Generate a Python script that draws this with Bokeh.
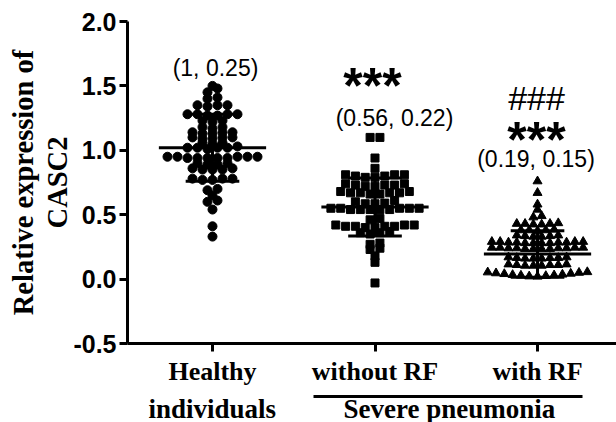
import numpy as np
from bokeh.plotting import figure
from bokeh.models import Label, FixedTicker, Range1d, LinearAxis, Title
from bokeh.embed import file_html
from bokeh.resources import INLINE

# ---------------- data ----------------
groups = ["Healthy individuals", "without RF", "with RF"]
group_pos = [1, 2, 3]

healthy = [1.50, 1.48, 1.45, 1.41, 1.40,
           1.35, 1.35, 1.34, 1.35,
           1.28, 1.28, 1.27, 1.28, 1.28, 1.27,
           1.23, 1.22, 1.23,
           1.18, 1.17, 1.18,
           1.14, 1.13, 1.14, 1.14, 1.13,
           1.10, 1.09, 1.10, 1.09, 1.10,
           1.06, 1.05, 1.06,
           1.02, 1.02, 1.03, 1.02, 1.01, 1.02,
           0.95, 0.94, 0.95, 0.94, 0.95, 0.94, 0.95, 0.94, 0.95, 0.94,
           0.90, 0.89, 0.90, 0.89,
           0.86, 0.85, 0.86, 0.85, 0.85,
           0.78, 0.77, 0.78, 0.77, 0.78,
           0.70, 0.69, 0.65, 0.61, 0.60, 0.54, 0.41, 0.33]

without_rf = [1.10, 1.10, 0.94, 0.86,
              0.81, 0.80, 0.81, 0.80, 0.81, 0.79, 0.79,
              0.73, 0.72, 0.74, 0.73, 0.72, 0.73, 0.74,
              0.67, 0.66, 0.67, 0.68, 0.67, 0.66, 0.67, 0.68,
              0.585, 0.59, 0.585, 0.60, 0.61,
              0.55, 0.54, 0.55, 0.54, 0.55, 0.54, 0.55, 0.54, 0.55, 0.54,
              0.47, 0.46,
              0.41, 0.40, 0.42, 0.41, 0.41, 0.42, 0.40, 0.41, 0.42,
              0.36, 0.37, 0.35, 0.36,
              0.27, 0.24, 0.28, 0.23,
              0.18, 0.13, -0.03]

with_rf = [0.76, 0.67, 0.58, 0.54, 0.49, 0.48,
           0.43, 0.425, 0.43, 0.435, 0.43, 0.425,
           0.38, 0.375, 0.38, 0.385, 0.38,
           0.335, 0.33, 0.34, 0.335, 0.33, 0.34,
           0.285, 0.28, 0.29, 0.285, 0.28, 0.29, 0.285, 0.28, 0.29, 0.285, 0.28, 0.29,
           0.24, 0.235, 0.245, 0.24, 0.235, 0.245, 0.24, 0.235, 0.245, 0.24, 0.235, 0.245,
           0.165, 0.16, 0.17, 0.165, 0.16, 0.17, 0.165, 0.16,
           0.11, 0.105, 0.115, 0.11, 0.105, 0.115, 0.11, 0.105,
           0.02, 0.022, 0.025, 0.028, 0.03, 0.033, 0.036, 0.04, 0.043, 0.046, 0.05, 0.053, 0.055]

means = [1.02, 0.56, 0.195]
sds = [0.26, 0.225, 0.18]

stat_labels = ["(1, 0.25)", "(0.56, 0.22)", "(0.19, 0.15)"]
star_labels = ["", "***", "***"]
hash_labels = ["", "", "###"]

y_ticks = [-0.5, 0.0, 0.5, 1.0, 1.5, 2.0]
y_tick_labels = ["-0.5", "0.0", "0.5", "1.0", "1.5", "2.0"]
x_tick_labels = ["Healthy", "without RF", "with RF"]
x_second_line = "individuals"
y_title = ["Relative expression of", "CASC2"]
x_title = "Severe pneumonia"

# ---------------- layout ----------------
W, H = 616, 422
LEFT, RIGHT, TOP, BOTTOM = 127, 0, 21, 78
x0, x1 = 0.477, 3.486
y0, y1 = -0.5, 2.0
frame_w = W - LEFT - RIGHT
frame_h = H - TOP - BOTTOM
xpx = frame_w / (x1 - x0)
ypx = frame_h / (y1 - y0)

SERIF = "Liberation Serif"
SANS = "Liberation Sans"

p = figure(width=W, height=H, output_backend="svg", toolbar_location=None,
           x_range=Range1d(x0, x1), y_range=Range1d(y0, y1),
           min_border_left=LEFT, min_border_right=RIGHT,
           min_border_top=TOP, min_border_bottom=BOTTOM)
p.outline_line_color = None
p.xgrid.visible = False
p.ygrid.visible = False
p.background_fill_color = "white"
p.border_fill_color = "white"


def row_layout(vals, d, gap=0.035):
    """GraphPad-like scatter layout: values that fall within `gap` of each
    other form one row, spread symmetrically with spacing d (pixels)."""
    vals = np.asarray(vals, dtype=float)
    order = np.argsort(vals, kind="stable")
    offs = np.zeros(len(vals))

    def flush(row):
        n = len(row)
        slots = sorted(((k - (n - 1) / 2) * d for k in range(n)),
                       key=lambda s: (round(abs(s), 6), s))
        for idx, s in zip(row, slots):
            offs[idx] = s

    row, start = [], None
    for i in order:
        if start is None or vals[i] - start > gap + 1e-9:
            if row:
                flush(row)
            row, start = [i], vals[i]
        else:
            row.append(i)
    if row:
        flush(row)
    return offs / xpx


series = [healthy, without_rf, with_rf]
markers = ["circle", "square", "triangle"]
sizes = [9, 8, 9]
spacing = [10, 9.8, 8.3]

for gx, vals, mk, sz, sp in zip(group_pos, series, markers, sizes, spacing):
    xs = gx + row_layout(vals, sp)
    p.scatter(xs, vals, marker=mk, size=sz, fill_color="black", line_color="black")

# mean and SD bars
MW, CW = 0.33, 0.165
for gx, m, s in zip(group_pos, means, sds):
    p.segment(x0=[gx - MW], y0=[m], x1=[gx + MW], y1=[m], line_color="black", line_width=3)
    p.segment(x0=[gx], y0=[m - s], x1=[gx], y1=[m + s], line_color="black", line_width=3)
    p.segment(x0=[gx - CW, gx - CW], y0=[m - s, m + s], x1=[gx + CW, gx + CW],
              y1=[m - s, m + s], line_color="black", line_width=3)

# ---------------- axes ----------------
for ax in (p.xaxis[0], p.yaxis[0]):
    ax.axis_line_width = 3
    ax.axis_line_color = "black"
    ax.major_tick_line_width = 3
    ax.major_tick_line_color = "black"
    ax.major_tick_out = 8
    ax.major_tick_in = 0
    ax.minor_tick_line_color = None

p.yaxis.ticker = FixedTicker(ticks=y_ticks)
p.yaxis.major_label_overrides = {t: l for t, l in zip(y_ticks, y_tick_labels)}
p.yaxis.major_label_text_font = SANS
p.yaxis.major_label_text_font_style = "bold"
p.yaxis.major_label_text_font_size = "25px"
p.yaxis.major_label_text_color = "black"
p.yaxis.major_label_standoff = 3

nb = "\u00a0"
p.xaxis.ticker = FixedTicker(ticks=group_pos)
p.xaxis.major_label_overrides = {g: l for g, l in zip(group_pos, x_tick_labels)}
p.xaxis.major_label_text_font = SERIF
p.xaxis.major_label_text_font_style = "bold"
p.xaxis.major_label_text_font_size = "26px"
p.xaxis.major_label_text_color = "black"
p.xaxis.major_label_standoff = 5
# small spacer between the first label row and the bracket line
p.xaxis.axis_label = nb
p.xaxis.axis_label_text_font_size = "1px"
p.xaxis.axis_label_standoff = 4

# bracket line under the two severe pneumonia groups
bracket = LinearAxis(bounds=(x0 + (313 - LEFT) / xpx, x0 + (582 - LEFT) / xpx),
                     ticker=FixedTicker(ticks=[]), axis_line_width=3,
                     axis_line_color="black", major_tick_out=0, major_tick_in=0,
                     minor_tick_out=0, minor_tick_in=0, major_label_standoff=0)
p.add_layout(bracket, "below")

# second row of category text
p.add_layout(Title(text=x_second_line + nb * 10 + x_title, align="left", offset=21,
                   vertical_align="top", standoff=-6, text_font=SERIF,
                   text_font_style="bold", text_font_size="27px", text_color="black"),
             "below")

# y title (two lines, stacked outward from the axis)
p.add_layout(Title(text=y_title[1], align="center", standoff=-4, text_font=SERIF,
                   text_font_style="bold", text_font_size="28.5px", text_color="black"), "left")
p.add_layout(Title(text=y_title[0], align="center", standoff=6, text_font=SERIF,
                   text_font_style="bold", text_font_size="28.5px", text_color="black"), "left")


def X(px):
    return x0 + (px - LEFT) / xpx


def Y(py):
    return y1 - (py - TOP) / ypx


# stats labels
stat_px = [(215, 68), (394, 118), (535.5, 159)]
for (px, py), t in zip(stat_px, stat_labels):
    p.add_layout(Label(x=X(px), y=Y(py), text=t, text_align="center", text_baseline="middle",
                       text_font=SANS, text_font_size="23px", text_color="black"))

star_px = [(0, 0), (372, 85.5), (536, 139.5)]
for (px, py), t in zip(star_px, star_labels):
    if t:
        p.add_layout(Label(x=X(px), y=Y(py), text=t, text_align="center",
                           text_baseline="alphabetic", text_font=SANS,
                           text_font_style="bold", text_font_size="50px", text_color="black"))

hash_px = [(0, 0), (0, 0), (536, 98)]
for (px, py), t in zip(hash_px, hash_labels):
    if t:
        p.add_layout(Label(x=X(px), y=Y(py), text=t, text_align="center",
                           text_baseline="alphabetic", text_font=SANS,
                           text_font_size="34px", text_color="black"))

open("out.html", "w").write(file_html(p, INLINE))
